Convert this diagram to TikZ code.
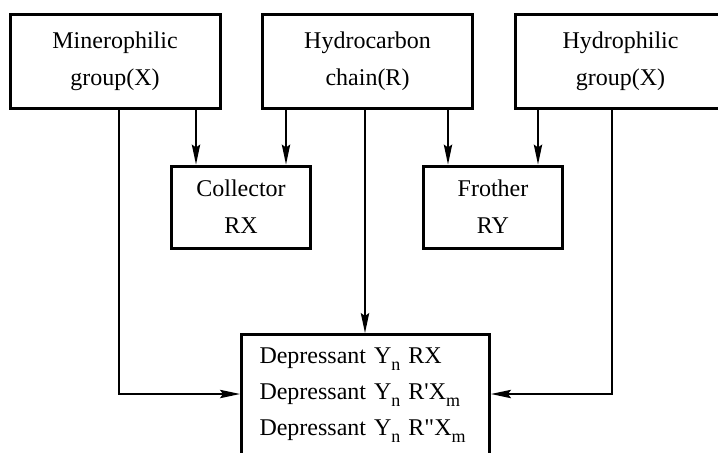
\documentclass[tikz,border=0pt]{standalone}
\usepackage{fontspec}
\setmainfont{Liberation Serif}
\newfontfamily\qfont{Liberation Serif}
\usetikzlibrary{arrows.meta}
\newcommand\subn[1]{\raisebox{-3.5pt}{\fontsize{9}{9}\selectfont #1}}
\tikzset{
  box/.style={draw, line width=1.5pt, align=center, inner sep=2pt,
    font=\fontsize{12}{18.5}\selectfont},
  conn/.style={line width=0.7pt, -{Stealth[length=10pt,width=4.2pt,inset=1.5pt]}},
  plain/.style={line width=0.7pt}
}
\begin{document}
\begin{tikzpicture}[x=0.5pt,y=-0.5pt]
\useasboundingbox (0,0) rectangle (718,452);
\clip (0,0) rectangle (718,452);
\fill[white] (0,0) rectangle (718,452);
% top boxes
\node[box, minimum width=105pt, minimum height=47pt] (m) at (115,61) {Minerophilic\\group(X)};
\node[box, minimum width=105pt, minimum height=47pt] (hc) at (367.5,61) {Hydrocarbon\\chain(R)};
\node[box, minimum width=105pt, minimum height=47pt] (hp) at (620.5,61) {Hydrophilic\\group(X)};
% middle boxes
\node[box, minimum width=69.5pt, minimum height=41pt] (col) at (241,207) {Collector\\RX};
\node[box, minimum width=69.5pt, minimum height=41pt] (fr) at (493,207) {Frother\\RY};
% depressant box
\node[anchor=north west, outer sep=0pt, inner xsep=9pt, inner ysep=6.4pt,
      text width=106pt, align=left, font=\fontsize{12}{18}\selectfont] (dep) at (241.5,334.5)
  {Depressant Y\subn{n} RX\\Depressant Y\subn{n} R{\qfont '}X\subn{m}\\Depressant Y\subn{n} R{\qfont "}X\subn{m}};
\draw[line width=1.5pt] (dep.north west) rectangle ([yshift=-90pt]dep.north east);
% helper coordinates
\coordinate (cA) at (119,0);
\coordinate (cB) at (196,0);
\coordinate (cC) at (286,0);
\coordinate (cD) at (365,0);
\coordinate (cE) at (448,0);
\coordinate (cF) at (538,0);
\coordinate (cG) at (612,0);
\coordinate (h) at (0,394);
% connectors
\draw[conn, shorten >=0.75pt] (m.south -| cA) |- (dep.west |- h);
\draw[conn] (m.south -| cB) -- (col.north -| cB);
\draw[conn] (hc.south -| cC) -- (col.north -| cC);
\draw[conn, shorten >=0.75pt] (hc.south -| cD) -- (dep.north -| cD);
\draw[conn] (hc.south -| cE) -- (fr.north -| cE);
\draw[conn] (hp.south -| cF) -- (fr.north -| cF);
\draw[conn, shorten >=0.75pt] (hp.south -| cG) |- (dep.east |- h);
\end{tikzpicture}
\end{document}
